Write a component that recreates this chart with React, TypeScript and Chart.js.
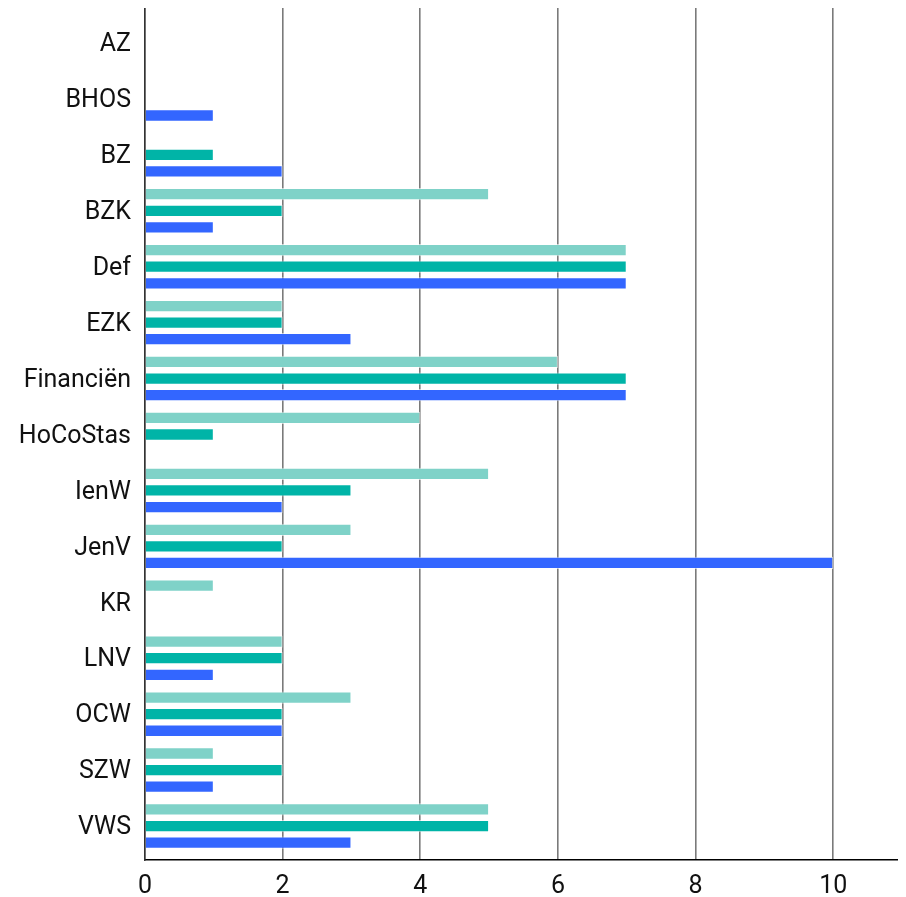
import React, { useEffect, useRef } from "react";
import { Chart, registerables } from "chart.js";

Chart.register(...registerables);

const categories = ["AZ", "BHOS", "BZ", "BZK", "Def", "EZK", "Financiën", "HoCoStas", "IenW", "JenV", "KR", "LNV", "OCW", "SZW", "VWS"];
const seriesLight = [0, 0, 0, 5, 7, 2, 6, 4, 5, 3, 1, 2, 3, 1, 5];
const seriesTeal = [0, 0, 1, 2, 7, 2, 7, 1, 3, 2, 0, 2, 2, 2, 5];
const seriesBlue = [0, 1, 2, 1, 7, 3, 7, 0, 2, 10, 0, 1, 2, 1, 3];
const xTicks = [0, 2, 4, 6, 8, 10];

// inset the category band inside the plot area (top / bottom gap)
const insetPlugin = {
  id: "yInset",
  afterLayout(chart: any) {
    const y = chart.scales.y;
    if (!y) return;
    const top = y.top + 7;
    const bottom = y.bottom - 6;
    y._startPixel = top;
    y._endPixel = bottom;
    y._length = bottom - top;
  },
};

export default function App() {
  const ref = useRef<HTMLCanvasElement | null>(null);
  useEffect(() => {
    if (!ref.current) return;
    const chart = new Chart(ref.current, {
      type: "bar",
      data: {
        labels: categories,
        datasets: [
          { label: "A", data: seriesLight, backgroundColor: "#7fd2c8", borderColor: "rgba(255,255,255,0.6)", borderWidth: 1 },
          { label: "B", data: seriesTeal, backgroundColor: "#00b4a7", borderColor: "rgba(255,255,255,0.6)", borderWidth: 1 },
          { label: "C", data: seriesBlue, backgroundColor: "#3366ff", borderColor: "rgba(255,255,255,0.6)", borderWidth: 1 },
        ],
      },
      plugins: [insetPlugin],
      options: {
        indexAxis: "y",
        animation: false,
        responsive: false,
        maintainAspectRatio: false,
        layout: { padding: 0 },
        datasets: { bar: { categoryPercentage: 0.89, barPercentage: 0.74 } },
        plugins: { legend: { display: false }, tooltip: { enabled: false } },
        scales: {
          x: {
            type: "linear",
            min: 0,
            max: 11,
            afterBuildTicks: (scale: any) => {
              scale.ticks = xTicks.map((v) => ({ value: v }));
            },
            afterFit: (scale: any) => {
              scale.height = 37;
              scale.paddingLeft = 0;
              scale.paddingRight = 0;
            },
            grid: { color: "#7a7a7a", lineWidth: 1.6, drawTicks: false },
            border: { display: true, color: "#000", width: 1.5 },
            ticks: { color: "#111", font: { family: "Roboto", size: 25 }, padding: 12 },
          },
          y: {
            type: "category",
            afterFit: (scale: any) => {
              scale.width = 137;
              scale.paddingTop = 0;
              scale.paddingBottom = 0;
            },
            grid: { display: false, drawTicks: false },
            border: { display: true, color: "#333", width: 1.5 },
            ticks: { color: "#111", font: { family: "Roboto", size: 25 }, padding: 14, labelOffset: 2 },
          },
        },
      },
    });
    return () => chart.destroy();
  }, []);
  return (
    <div style={{ width: 894, height: 889 }}>
      <canvas ref={ref} width={894} height={889} style={{ width: 894, height: 889, display: "block" }} />
    </div>
  );
}
